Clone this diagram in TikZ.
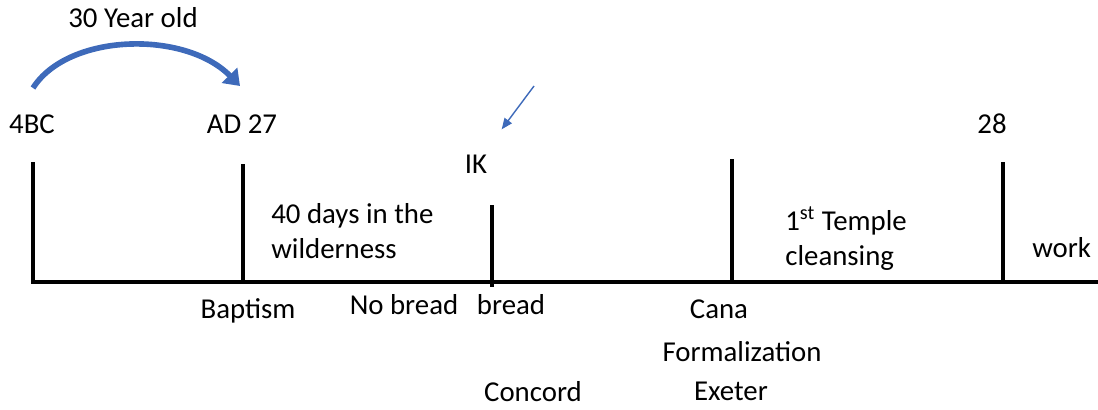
\documentclass[tikz,border=0pt]{standalone}
\usepackage{fontspec}
\setmainfont{Carlito}
\usepackage{xcolor}
\usepackage{tikz}
\usetikzlibrary{arrows.meta}

\definecolor{arrowblue}{RGB}{62,106,186}

\begin{document}
\begin{tikzpicture}[x=0.02cm, y=-0.02cm,
        lbl/.style={font=\fontsize{16.4}{19.9}\selectfont, inner sep=0pt, anchor=base},
        para/.style={lbl, anchor=north west, align=left},
        tickline/.style={line width=2.4pt},
        ageline/.style={arrowblue, line width=3.2pt, -{Triangle[length=0.3cm, width=0.42cm]}},
        ikline/.style={arrowblue, line width=0.8pt, -{Triangle[length=0.22cm, width=0.18cm]}}]
        \useasboundingbox (0,0) rectangle (1098,409);

        % years
        \node[lbl] (bc) at (32,133) {4BC};
        \node[lbl] (ad) at (242,133) {AD 27};
        \node[lbl] (yr28) at (992,133) {28};
        \node[lbl] (age) at (133,28) {30 Year old};
        \coordinate (agefrom) at (33,88);
        \coordinate (ageto) at (240,86);
        \draw[ageline] (agefrom) .. controls (68,33) and (185,30) .. (ageto);

        % time line
        \draw[line width=2.6pt] (31,282) -- (1098,282);
        \draw[tickline] (33,162) -- (33,282);
        \draw[tickline] (243,164) -- (243,282);
        \draw[tickline] (492,205) -- (492,287);
        \draw[tickline] (732,159) -- (732,282);
        \draw[tickline] (1003,162) -- (1003,282);

        % above the line
        \node[lbl] (ik) at (476,173) {IK};
        \coordinate (ikfrom) at (534,86);
        \draw[ikline, shorten >=0.62cm] (ikfrom) -- (ik);
        \node[para] (wild) at (271,203) {40 days in the\\wilderness};
        \node[para] (temple) at (785,206) {1\textsuperscript{st} Temple\\cleansing};
        \node[lbl, anchor=base west] (work) at (1032,257) {work};

        % below the line
        \node[lbl] (baptism) at (248,318) {Baptism};
        \node[lbl] (nobread) at (404,314) {No bread};
        \node[lbl] (bread) at (511,314) {bread};
        \node[lbl] (cana) at (719,318) {Cana};
        \node[lbl] (formal) at (742,361) {Formalization};
        \node[lbl] (exeter) at (731,400) {Exeter};
        \node[lbl] (concord) at (533,401) {Concord};
    \end{tikzpicture}
\end{document}
